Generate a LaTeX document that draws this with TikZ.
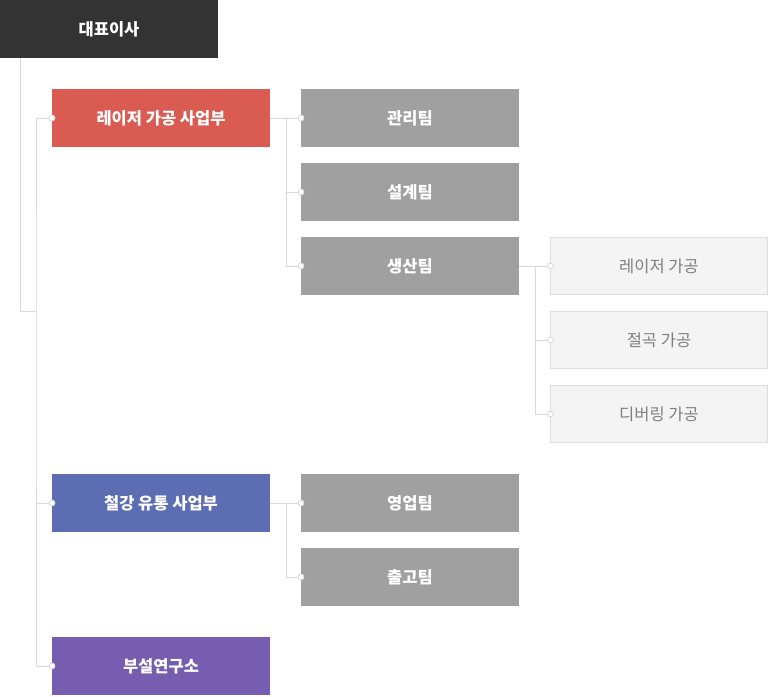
\documentclass[tikz,border=0pt]{standalone}
\usepackage{fontspec}
\setmainfont{Noto Sans CJK KR}
\usetikzlibrary{positioning}

\definecolor{ceoColor}{RGB}{51,51,51}
\definecolor{laserColor}{RGB}{217,91,82}
\definecolor{steelColor}{RGB}{93,109,179}
\definecolor{labColor}{RGB}{118,93,176}
\definecolor{teamColor}{RGB}{160,160,160}
\definecolor{subColor}{RGB}{244,244,244}
\definecolor{subLine}{RGB}{221,221,221}
\definecolor{subText}{RGB}{128,128,128}
\definecolor{lineColor}{RGB}{216,216,216}

\begin{document}
\begin{tikzpicture}[x=1pt,y=-1pt,
  box/.style={anchor=north west,inner sep=0pt,outer sep=0pt,minimum width=218pt,minimum height=58pt,
    text=white,font=\fontsize{16.5}{19}\selectfont\bfseries},
  subbox/.style={box,fill=subColor,draw=subLine,line width=1pt,minimum width=217pt,minimum height=57pt,
    text=subText,font=\fontsize{16.5}{19}\selectfont},
  link/.style={draw=lineColor,line width=1pt},
  dot/.style={circle,fill=white,draw=lineColor,line width=0.8pt,minimum size=6pt,inner sep=0pt}]
\path[use as bounding box,fill=white] (0,0) rectangle (768,696);

% head and divisions
\node[box,fill=ceoColor] (ceo) at (0,0) {대표이사};
\node[box,fill=laserColor] (laser) at (52,89) {레이저 가공 사업부};
\node[box,fill=steelColor] (steel) at (52,474) {철강 유통 사업부};
\node[box,fill=labColor] (lab) at (52,637) {부설연구소};

% teams
\node[box,fill=teamColor] (mgmt) at (301,89) {관리팀};
\node[box,fill=teamColor] (design) at (301,163) {설계팀};
\node[box,fill=teamColor] (prod) at (301,237) {생산팀};
\node[box,fill=teamColor] (sales) at (301,474) {영업팀};
\node[box,fill=teamColor] (ship) at (301,548) {출고팀};

% production work
\node[subbox] (cut) at (550.5,237.5) {레이저 가공};
\node[subbox] (bend) at (550.5,311.5) {절곡 가공};
\node[subbox] (deburr) at (550.5,385.5) {디버링 가공};

% connectors
\coordinate (trunk) at (36,311);
\draw[link] ([xshift=20pt]ceo.south west) |- (trunk);
\draw[link] (laser.west) -| (trunk) |- (lab.west);
\draw[link] (steel.west) -- ++(-16,0);

\draw[link] (laser.east) -- ++(16,0) coordinate (laserBus) |- (prod.west);
\draw[link] (laserBus) |- (mgmt.west);
\draw[link] (laserBus) |- (design.west);

\draw[link] (steel.east) -- ++(16,0) coordinate (steelBus) |- (ship.west);
\draw[link] (steelBus) |- (sales.west);

\draw[link] (prod.east) -- ++(16,0) coordinate (prodBus) |- (deburr.west);
\draw[link] (prodBus) |- (cut.west);
\draw[link] (prodBus) |- (bend.west);

\foreach \n in {laser,steel,lab,mgmt,design,prod,sales,ship,cut,bend,deburr}
  \node[dot] at (\n.west) {};
\end{tikzpicture}
\end{document}
